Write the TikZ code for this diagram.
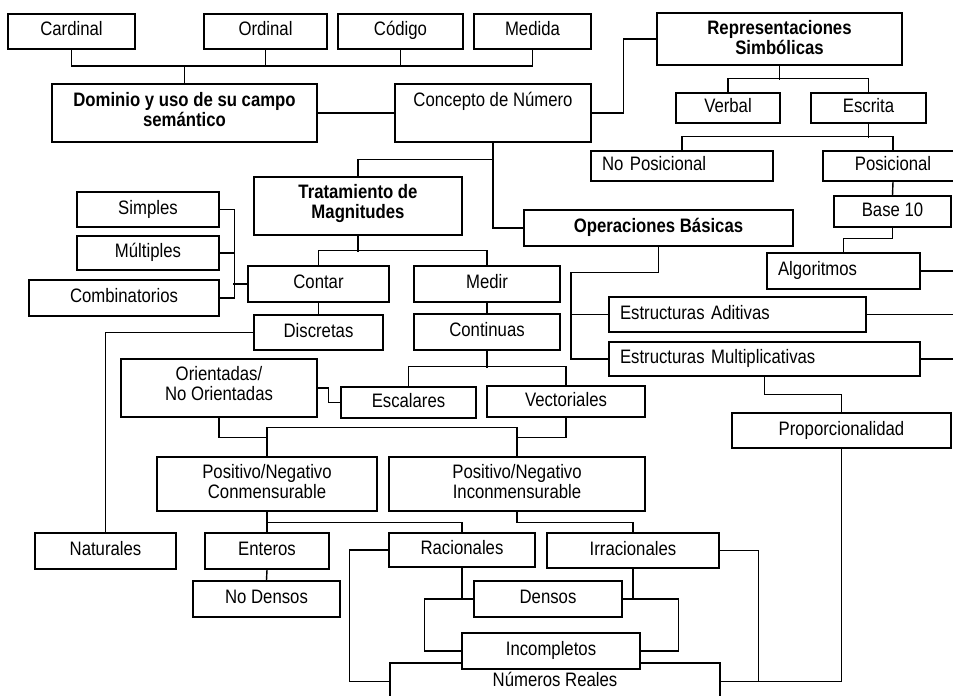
\documentclass[tikz,border=0pt]{standalone}
\usepackage{fontspec}
\setmainfont[FakeStretch=0.86]{Liberation Sans}
\newcommand\twol[2]{\begin{tabular}[t]{@{}c@{}}#1\\#2\end{tabular}}
\newcommand\mybox[7][]{%
  \pgfmathsetmacro\bw{(#5-#3)*0.75}%
  \pgfmathsetmacro\bh{(#6-#4)*0.75}%
  \pgfmathsetmacro\tw{(#5-#3)*0.75-16.5}%
  \node[bx,minimum width=\bw pt,minimum height=\bh pt,#1] (#2) at ({(#3+#5)/2},{(#4+#6)/2}) {#7};%
}
\tikzset{
  bx/.style={draw=black, line width=1.05pt, fill=white, inner sep=0pt,
    font=\fontsize{14.6pt}{14.5pt}\selectfont, text=black,
    text height=10.5pt, text depth=3.75pt},
  bold/.style={font=\fontsize{14.6pt}{14.5pt}\selectfont\bfseries},
  lbox/.style={text width=\tw pt, inner xsep=8.25pt, align=left},
  conn/.style={draw=black, line width=1.05pt}
}
\begin{document}
\begin{tikzpicture}[x=0.75pt,y=-0.75pt]
\clip (0,0) rectangle (953,696);
\fill[white] (0,0) rectangle (953,696);
\coordinate (tb) at (0,66);
\coordinate (redge) at (960,0);
% top row
\mybox{card}{8}{14}{135}{49}{Cardinal}
\mybox{ord}{204}{14}{327}{49}{Ordinal}
\mybox{cod}{338}{14}{463}{49}{Código}
\mybox{medida}{474}{14}{591}{49}{Medida}
\mybox[bold,text depth=21pt]{dom}{52}{84}{317}{142}{\twol{Dominio y uso de su campo}{semántico}}
\mybox[text depth=21pt]{conc}{395}{84}{591}{142}{Concepto de Número}
\mybox[bold,text depth=17.5pt]{rep}{657}{13}{902}{65}{\twol{Representaciones}{Simbólicas}}
\mybox{verb}{676}{93}{780}{123}{Verbal}
\mybox{escr}{811}{93}{926}{123}{Escrita}
\mybox[lbox]{nopos}{591}{151}{773}{181}{No Posicional}
\mybox{pos}{823}{151}{963}{181}{Posicional}
\mybox{b10}{834}{196}{951}{227}{Base 10}
\mybox[lbox]{alg}{767}{253}{920}{289}{Algoritmos}
\mybox[bold]{ops}{524}{210}{793}{246}{Operaciones Básicas}
\mybox[bold,text depth=22pt]{trat}{254}{177}{462}{235}{\twol{Tratamiento de}{Magnitudes}}
\mybox{simp}{77}{192}{219}{227}{Simples}
\mybox{mult}{77}{236}{219}{270}{Múltiples}
\mybox{comb}{29}{280}{219}{316}{Combinatorios}
\mybox{cont}{248}{266}{389}{302}{Contar}
\mybox{medir}{414}{266}{560}{302}{Medir}
\mybox{disc}{254}{315}{383}{350}{Discretas}
\mybox{contin}{414}{314}{560}{350}{Continuas}
\mybox[lbox]{eadi}{609}{297}{866}{332}{Estructuras Aditivas}
\mybox[lbox]{emul}{609}{342}{920}{376}{Estructuras Multiplicativas}
\mybox[text depth=21.5pt]{ori}{121}{359}{317}{417}{\twol{Orientadas/}{No Orientadas}}
\mybox{esc}{341}{387}{476}{418}{Escalares}
\mybox{vect}{487}{386}{645}{417}{Vectoriales}
\mybox{prop}{732}{413}{951}{448}{Proporcionalidad}
\mybox[text depth=19pt]{pnc}{157}{457}{377}{511}{\twol{Positivo/Negativo}{Conmensurable}}
\mybox[text depth=19pt]{pni}{389}{457}{645}{511}{\twol{Positivo/Negativo}{Inconmensurable}}
\mybox{nat}{35}{533}{176}{569}{Naturales}
\mybox{ent}{205}{533}{329}{569}{Enteros}
\mybox{rac}{389}{533}{535}{567}{Racionales}
\mybox{irr}{547}{533}{719}{568}{Irracionales}
\mybox{nod}{193}{581}{340}{617}{No Densos}
\mybox{dens}{474}{581}{622}{617}{Densos}
\mybox{real}{390}{663}{720}{700}{Números Reales}
\mybox{inc}{462}{633}{640}{669}{Incompletos}
% connectors
\draw[conn] (card.south) -- (card.south |- tb) -- (tb -| medida.south) -- (medida.south);
\draw[conn] (ord.south) -- (ord.south |- tb);
\draw[conn] (cod.south) -- (cod.south |- tb);
\draw[conn] (dom.north) -- (dom.north |- tb);
\draw[conn] (dom.east) -- (conc.west);
\draw[conn] (conc.east) -- ++(32,0) |- (rep.west);
\draw[conn] (rep.south) -- ++(0,14);
\draw[conn] (verb.north) -- ++(0,-14) -| (escr.north);
\draw[conn] (escr.south) -- ++(0,14);
\draw[conn] (nopos.north) -- ++(0,-14) -| (pos.north);
\draw[conn] (pos.south) -- (b10.north);
\draw[conn] (b10.south) -- ++(0,11) -| (alg.north);
\draw[conn] (alg.east) -- (alg.east -| redge);
\draw[conn] (conc.south) |- (ops.west);
\draw[conn] (trat.north) -- ++(0,-17) -| (conc.south);
\draw[conn] (trat.south) -- ++(0,16);
\draw[conn] (cont.north) -- ++(0,-15) -| (medir.north);
\draw[conn] (cont.south) -- (disc.north);
\draw[conn] (medir.south) -- (contin.north);
\draw[conn] (simp.east) -- ++(15,0) |- (comb.east);
\draw[conn] (mult.east) -- ++(15,0);
\draw[conn] (cont.west) -- ++(-14,0);
\draw[conn] (disc.west) -| (nat.north);
\draw[conn] (contin.south) -- ++(0,17);
\draw[conn] (esc.north) -- ++(0,-20) -| (vect.north);
\draw[conn] (ori.east) -- ++(11,0) |- (esc.west);
\draw[conn] (ori.south) -- ++(0,20) -| (pnc.north);
\draw[conn] (pnc.north) -- ++(0,-29) -| (pni.north);
\draw[conn] (vect.south) -- ++(0,20) -| (pni.north);
\draw[conn] (pnc.south) -- ++(0,11) -| (rac.north);
\draw[conn] (pnc.south) -- (ent.north);
\draw[conn] (pni.south) -- ++(0,11) -| (irr.north);
\draw[conn] (ent.south) -- (nod.north);
\draw[conn] (rac.south) |- (dens.west);
\draw[conn] (irr.south) |- (dens.east);
\draw[conn] (dens.west) -- ++(-49,0) |- (inc.west);
\draw[conn] (dens.east) -- ++(56,0) |- (inc.east);
\draw[conn] (rac.west) -- ++(-39,0) |- (real.west);
\draw[conn] (irr.east) -- ++(39,0) |- (real.east);
\draw[conn] (prop.south) |- (real.east);
\draw[conn] (ops.south) -- ++(0,26) -- ++(-87.5,0) |- (emul.west);
\draw[conn] (eadi.west) -- ++(-38,0);
\draw[conn] (emul.south) -- ++(0,18) -| (prop.north);
\draw[conn] (eadi.east) -- (eadi.east -| redge);
\draw[conn] (emul.east) -- (emul.east -| redge);
\end{tikzpicture}
\end{document}
